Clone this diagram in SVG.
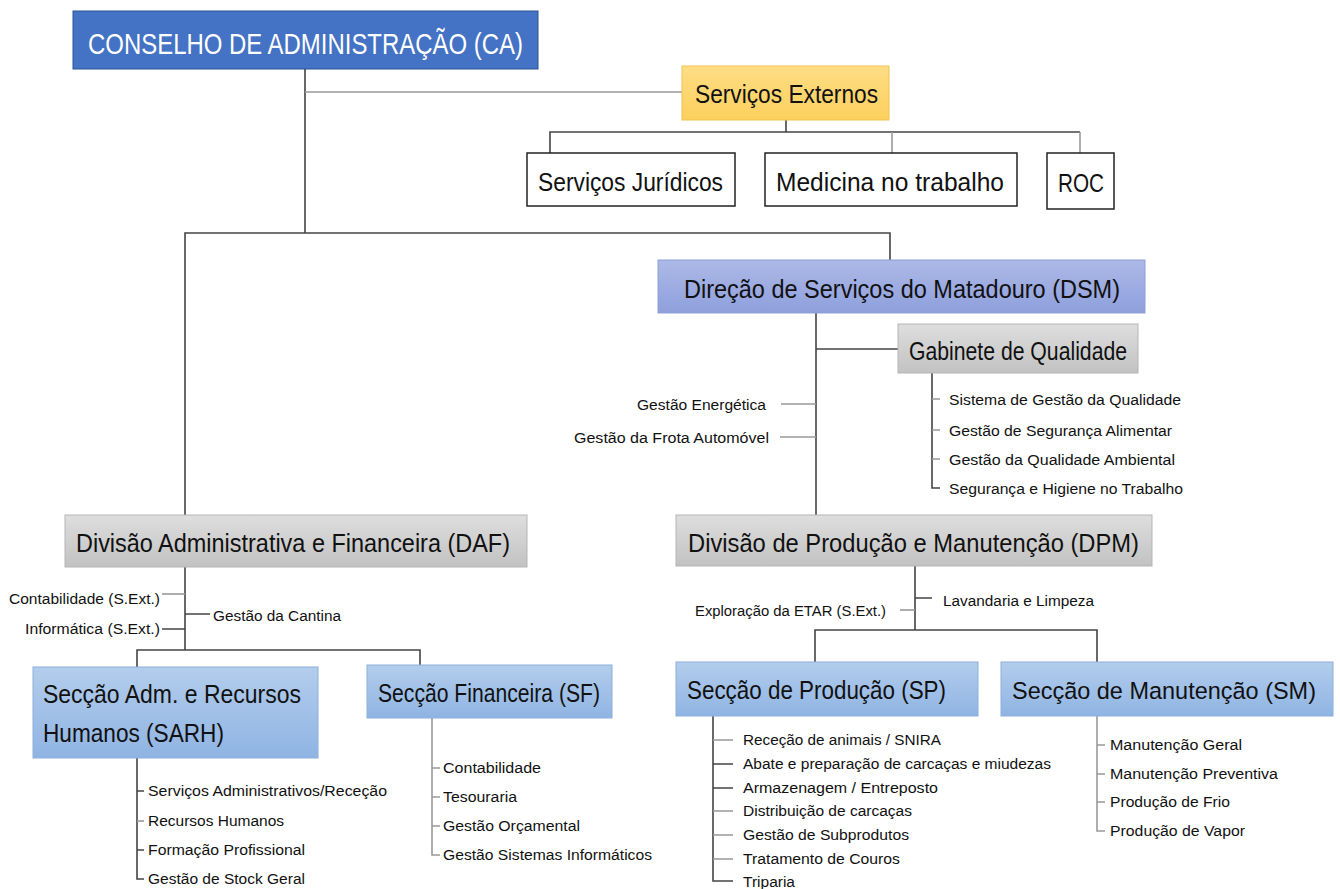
<svg xmlns="http://www.w3.org/2000/svg" width="1340" height="889" viewBox="0 0 1340 889">
<defs>
<linearGradient id="gGray" x1="0" y1="0" x2="0" y2="1"><stop offset="0" stop-color="#dedede"/><stop offset="1" stop-color="#c2c2c2"/></linearGradient>
<linearGradient id="gBlue" x1="0" y1="0" x2="0" y2="1"><stop offset="0" stop-color="#b3cdec"/><stop offset="1" stop-color="#8fb4e3"/></linearGradient>
<linearGradient id="gLav" x1="0" y1="0" x2="0" y2="1"><stop offset="0" stop-color="#adb9e7"/><stop offset="1" stop-color="#8e9fdc"/></linearGradient>
<linearGradient id="gOr" x1="0" y1="0" x2="0" y2="1"><stop offset="0" stop-color="#ffdd85"/><stop offset="1" stop-color="#fbd05c"/></linearGradient>
</defs>
<style>
text{font-family:"Liberation Sans",Arial,sans-serif;fill:#111}
.big{font-size:26px}
.sm{font-size:15.5px}
.ca{font-size:30px;fill:#fff}
.l{stroke:#444;stroke-width:1.6;fill:none}
.lg{stroke:#999;stroke-width:1.6;fill:none}
</style>
<rect width="1340" height="889" fill="#fff"/>
<g id="connectors">
<path class="l" d="M305 69V233M185 515V233H890V260"/>
<path class="lg" d="M305 92H682"/>
<path class="l" d="M786 120V132M550 153V132H1080"/>
<path class="lg" d="M892 132V153M1080 132V153"/>
<path class="l" d="M816 313V515M816 349H898"/>
<path class="l" d="M932 373V488H940"/>
<path class="lg" d="M932 399H940M932 430H940M932 459H940"/>
<path class="lg" d="M781 404H816M780 437H816"/>
<path class="l" d="M185 567V650M185 614H210M162 629H185M137 667V650H420V665"/>
<path class="lg" d="M162 594H185"/>
<path class="l" d="M137 758V879H144M137 791H144M137 850H144"/>
<path class="lg" d="M137 821H144"/>
<path class="lg" d="M432 718V855H440M432 768H440M432 797H440M432 826H440"/>
<path class="l" d="M915 566V630M915 598H932M815 662V630H1097V662"/>
<path class="lg" d="M900 610H915"/>
<path class="l" d="M713 716V881H733M713 764H733M713 788H733"/>
<path class="lg" d="M713 740H733M713 811H733M713 835H733M713 859H733"/>
<path class="lg" d="M1097 716V831H1105M1097 745H1105M1097 774H1105M1097 802H1105"/>
</g>
<g id="ca"><rect x="73" y="11" width="465" height="58" fill="#4472c4" stroke="#2f528f"/><text class="ca" x="88" y="54" textLength="435" lengthAdjust="spacingAndGlyphs">CONSELHO DE ADMINISTRAÇÃO (CA)</text></g>
<g id="se"><rect x="682" y="66" width="207" height="54" fill="url(#gOr)" stroke="#f2c14e"/><text class="big" x="695" y="103" textLength="183" lengthAdjust="spacingAndGlyphs">Serviços Externos</text></g>
<g id="sj"><rect x="527" y="153" width="208" height="53" fill="#fff" stroke="#222" stroke-width="1.5"/><text class="big" x="538" y="191" textLength="185" lengthAdjust="spacingAndGlyphs">Serviços Jurídicos</text></g>
<g id="mt"><rect x="765" y="153" width="252" height="53" fill="#fff" stroke="#222" stroke-width="1.5"/><text class="big" x="776" y="191" textLength="228" lengthAdjust="spacingAndGlyphs">Medicina no trabalho</text></g>
<g id="roc"><rect x="1047" y="153" width="67" height="56" fill="#fff" stroke="#222" stroke-width="1.5"/><text class="big" x="1058" y="192" textLength="46" lengthAdjust="spacingAndGlyphs">ROC</text></g>
<g id="dsm"><rect x="658" y="260" width="487" height="53" fill="url(#gLav)" stroke="#8d9fd8"/><text class="big" x="684" y="298" textLength="436" lengthAdjust="spacingAndGlyphs">Direção de Serviços do Matadouro (DSM)</text></g>
<g id="gq"><rect x="898" y="324" width="240" height="49" fill="url(#gGray)" stroke="#b5b5b5"/><text class="big" x="909" y="360" textLength="218" lengthAdjust="spacingAndGlyphs">Gabinete de Qualidade</text>
<text class="sm" x="949" y="405" textLength="232" lengthAdjust="spacingAndGlyphs">Sistema de Gestão da Qualidade</text>
<text class="sm" x="949" y="436" textLength="223" lengthAdjust="spacingAndGlyphs">Gestão de Segurança Alimentar</text>
<text class="sm" x="949" y="465" textLength="226" lengthAdjust="spacingAndGlyphs">Gestão da Qualidade Ambiental</text>
<text class="sm" x="949" y="494" textLength="234" lengthAdjust="spacingAndGlyphs">Segurança e Higiene no Trabalho</text></g>
<g id="dsm-items"><text class="sm" x="637" y="410" textLength="129" lengthAdjust="spacingAndGlyphs">Gestão Energética</text>
<text class="sm" x="574" y="443" textLength="195" lengthAdjust="spacingAndGlyphs">Gestão da Frota Automóvel</text></g>
<g id="daf"><rect x="65" y="515" width="462" height="52" fill="url(#gGray)" stroke="#b5b5b5"/><text class="big" x="76" y="552" textLength="434" lengthAdjust="spacingAndGlyphs">Divisão Administrativa e Financeira (DAF)</text>
<text class="sm" x="9" y="604" textLength="151" lengthAdjust="spacingAndGlyphs">Contabilidade (S.Ext.)</text>
<text class="sm" x="25" y="634" textLength="135" lengthAdjust="spacingAndGlyphs">Informática (S.Ext.)</text>
<text class="sm" x="213" y="621" textLength="128" lengthAdjust="spacingAndGlyphs">Gestão da Cantina</text></g>
<g id="dpm"><rect x="676" y="515" width="476" height="51" fill="url(#gGray)" stroke="#b5b5b5"/><text class="big" x="688" y="552" textLength="451" lengthAdjust="spacingAndGlyphs">Divisão de Produção e Manutenção (DPM)</text>
<text class="sm" x="695" y="616" textLength="191" lengthAdjust="spacingAndGlyphs">Exploração da ETAR (S.Ext.)</text>
<text class="sm" x="943" y="606" textLength="151" lengthAdjust="spacingAndGlyphs">Lavandaria e Limpeza</text></g>
<g id="sarh"><rect x="33" y="667" width="285" height="91" fill="url(#gBlue)" stroke="#8db0dc"/><text class="big" x="43" y="703" textLength="258" lengthAdjust="spacingAndGlyphs">Secção Adm. e Recursos</text><text class="big" x="43" y="742" textLength="181" lengthAdjust="spacingAndGlyphs">Humanos (SARH)</text>
<text class="sm" x="148" y="796" textLength="239" lengthAdjust="spacingAndGlyphs">Serviços Administrativos/Receção</text>
<text class="sm" x="148" y="826" textLength="136" lengthAdjust="spacingAndGlyphs">Recursos Humanos</text>
<text class="sm" x="148" y="855" textLength="157" lengthAdjust="spacingAndGlyphs">Formação Profissional</text>
<text class="sm" x="148" y="884" textLength="157" lengthAdjust="spacingAndGlyphs">Gestão de Stock Geral</text></g>
<g id="sf"><rect x="367" y="665" width="245" height="53" fill="url(#gBlue)" stroke="#8db0dc"/><text class="big" x="378" y="702" textLength="222" lengthAdjust="spacingAndGlyphs">Secção Financeira (SF)</text>
<text class="sm" x="443" y="773" textLength="98" lengthAdjust="spacingAndGlyphs">Contabilidade</text>
<text class="sm" x="443" y="802" textLength="74" lengthAdjust="spacingAndGlyphs">Tesouraria</text>
<text class="sm" x="443" y="831" textLength="137" lengthAdjust="spacingAndGlyphs">Gestão Orçamental</text>
<text class="sm" x="443" y="860" textLength="209" lengthAdjust="spacingAndGlyphs">Gestão Sistemas Informáticos</text></g>
<g id="sp"><rect x="676" y="662" width="302" height="54" fill="url(#gBlue)" stroke="#8db0dc"/><text class="big" x="687" y="699" textLength="259" lengthAdjust="spacingAndGlyphs">Secção de Produção (SP)</text>
<text class="sm" x="743" y="745" textLength="198" lengthAdjust="spacingAndGlyphs">Receção de animais / SNIRA</text>
<text class="sm" x="743" y="769" textLength="308" lengthAdjust="spacingAndGlyphs">Abate e preparação de carcaças e miudezas</text>
<text class="sm" x="743" y="793" textLength="195" lengthAdjust="spacingAndGlyphs">Armazenagem / Entreposto</text>
<text class="sm" x="743" y="816" textLength="169" lengthAdjust="spacingAndGlyphs">Distribuição de carcaças</text>
<text class="sm" x="743" y="840" textLength="166" lengthAdjust="spacingAndGlyphs">Gestão de Subprodutos</text>
<text class="sm" x="743" y="864" textLength="157" lengthAdjust="spacingAndGlyphs">Tratamento de Couros</text>
<text class="sm" x="743" y="887" textLength="52" lengthAdjust="spacingAndGlyphs">Triparia</text></g>
<g id="sm"><rect x="1001" y="662" width="332" height="54" fill="url(#gBlue)" stroke="#8db0dc"/><text class="big" x="1012" y="699" style="font-size:24.5px" textLength="304" lengthAdjust="spacingAndGlyphs">Secção de Manutenção (SM)</text>
<text class="sm" x="1110" y="750" textLength="132" lengthAdjust="spacingAndGlyphs">Manutenção Geral</text>
<text class="sm" x="1110" y="779" textLength="168" lengthAdjust="spacingAndGlyphs">Manutenção Preventiva</text>
<text class="sm" x="1110" y="807" textLength="120" lengthAdjust="spacingAndGlyphs">Produção de Frio</text>
<text class="sm" x="1110" y="836" textLength="135" lengthAdjust="spacingAndGlyphs">Produção de Vapor</text></g>
</svg>
